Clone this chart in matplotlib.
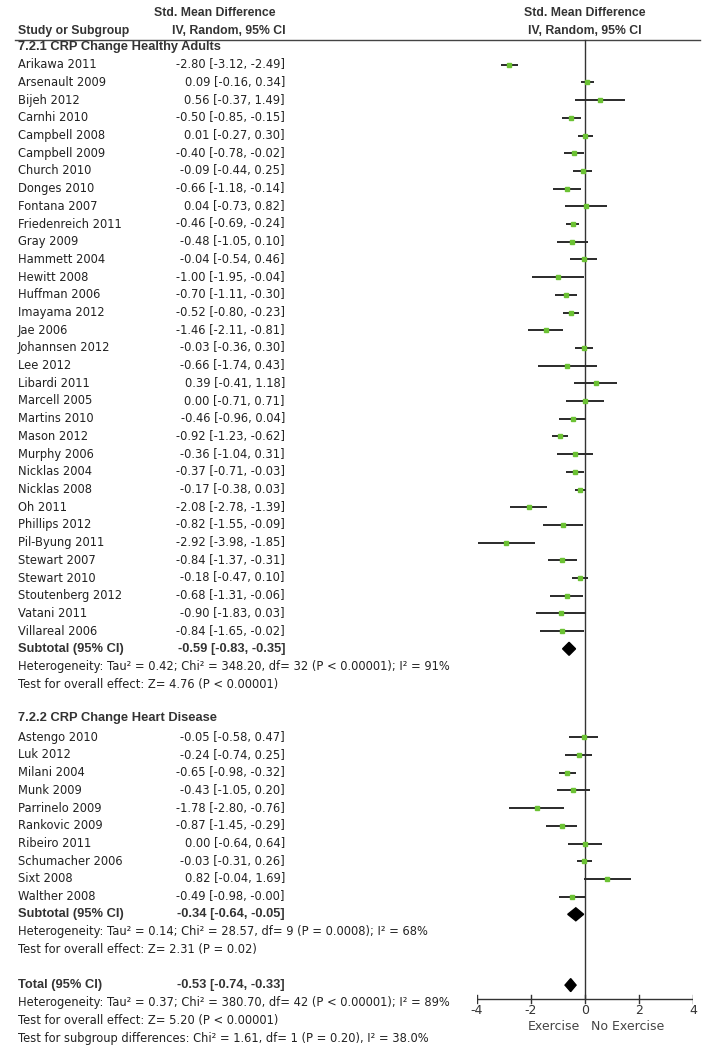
import numpy as np
import matplotlib
matplotlib.use("Agg")
import matplotlib.pyplot as plt

# ---- data ----
g1_names = ["Arikawa 2011", "Arsenault 2009", "Bijeh 2012", "Carnhi 2010", "Campbell 2008",
            "Campbell 2009", "Church 2010", "Donges 2010", "Fontana 2007", "Friedenreich 2011",
            "Gray 2009", "Hammett 2004", "Hewitt 2008", "Huffman 2006", "Imayama 2012",
            "Jae 2006", "Johannsen 2012", "Lee 2012", "Libardi 2011", "Marcell 2005",
            "Martins 2010", "Mason 2012", "Murphy 2006", "Nicklas 2004", "Nicklas 2008",
            "Oh 2011", "Phillips 2012", "Pil-Byung 2011", "Stewart 2007", "Stewart 2010",
            "Stoutenberg 2012", "Vatani 2011", "Villareal 2006"]
g1_est = [-2.80, 0.09, 0.56, -0.50, 0.01, -0.40, -0.09, -0.66, 0.04, -0.46,
          -0.48, -0.04, -1.00, -0.70, -0.52, -1.46, -0.03, -0.66, 0.39, 0.00,
          -0.46, -0.92, -0.36, -0.37, -0.17, -2.08, -0.82, -2.92, -0.84, -0.18,
          -0.68, -0.90, -0.84]
g1_lo = [-3.12, -0.16, -0.37, -0.85, -0.27, -0.78, -0.44, -1.18, -0.73, -0.69,
         -1.05, -0.54, -1.95, -1.11, -0.80, -2.11, -0.36, -1.74, -0.41, -0.71,
         -0.96, -1.23, -1.04, -0.71, -0.38, -2.78, -1.55, -3.98, -1.37, -0.47,
         -1.31, -1.83, -1.65]
g1_hi = [-2.49, 0.34, 1.49, -0.15, 0.30, -0.02, 0.25, -0.14, 0.82, -0.24,
         0.10, 0.46, -0.04, -0.30, -0.23, -0.81, 0.30, 0.43, 1.18, 0.71,
         0.04, -0.62, 0.31, -0.03, 0.03, -1.39, -0.09, -1.85, -0.31, 0.10,
         -0.06, 0.03, -0.02]
g1_sub = (-0.59, -0.83, -0.35)

g2_names = ["Astengo 2010", "Luk 2012", "Milani 2004", "Munk 2009", "Parrinelo 2009",
            "Rankovic 2009", "Ribeiro 2011", "Schumacher 2006", "Sixt 2008", "Walther 2008"]
g2_est = [-0.05, -0.24, -0.65, -0.43, -1.78, -0.87, 0.00, -0.03, 0.82, -0.49]
g2_lo = [-0.58, -0.74, -0.98, -1.05, -2.80, -1.45, -0.64, -0.31, -0.04, -0.98]
g2_hi = [0.47, 0.25, -0.32, 0.20, -0.76, -0.29, 0.64, 0.26, 1.69, -0.00]
g2_sub = (-0.34, -0.64, -0.05)

total = (-0.53, -0.74, -0.33)

g1_title = "7.2.1 CRP Change Healthy Adults"
g2_title = "7.2.2 CRP Change Heart Disease"
g1_het = "Heterogeneity: Tau\u00b2 = 0.42; Chi\u00b2 = 348.20, df= 32 (P < 0.00001); I\u00b2 = 91%"
g1_test = "Test for overall effect: Z= 4.76 (P < 0.00001)"
g2_het = "Heterogeneity: Tau\u00b2 = 0.14; Chi\u00b2 = 28.57, df= 9 (P = 0.0008); I\u00b2 = 68%"
g2_test = "Test for overall effect: Z= 2.31 (P = 0.02)"
tot_het = "Heterogeneity: Tau\u00b2 = 0.37; Chi\u00b2 = 380.70, df= 42 (P < 0.00001); I\u00b2 = 89%"
tot_test = "Test for overall effect: Z= 5.20 (P < 0.00001)"
tot_sub = "Test for subgroup differences: Chi\u00b2 = 1.61, df= 1 (P = 0.20), I\u00b2 = 38.0%"

xticks = [-4, -2, 0, 2, 4]

# ---- layout (pixel units) ----
W, H = 714, 1050
y0, step = 47, 17.7
def row(k):
    return y0 + step * k

fs = 8.3
tc = "#222222"
bfam = ["Liberation Sans", "DejaVu Sans"]

fig = plt.figure(figsize=(W / 100, H / 100), dpi=100)
ax = fig.add_axes([0, 0, 1, 1])
ax.set_xlim(0, W)
ax.set_ylim(H, 0)
ax.axis("off")

# forest axes: -4..4 maps onto pixel 477..693
fx0, fx1 = 477, 693
af = fig.add_axes([fx0 / W, 0, (fx1 - fx0) / W, 1])
af.set_xlim(-4, 4)
af.set_ylim(H, 0)
af.axis("off")

def fmt(e, l, h):
    return "%.2f [%.2f, %.2f]" % (e, l, h)

def btext(a, x, y, s, ha="left", size=8.8):
    a.text(x, y, s, ha=ha, va="center", fontsize=size, fontweight="bold",
           family=bfam, color="#333333")

# headers
btext(ax, 215, 13, "Std. Mean Difference", ha="center")
btext(ax, 18, 31, "Study or Subgroup")
btext(ax, 286, 31, "IV, Random, 95% CI", ha="right")
btext(af, 0.0, 13, "Std. Mean Difference", ha="center")
btext(af, 0.0, 31, "IV, Random, 95% CI", ha="center")
ax.plot([15, 700], [39.5, 39.5], color="#444444", lw=1)

def study_rows(names, est, lo, hi, k0):
    for i, n in enumerate(names):
        y = row(k0 + i)
        ax.text(18, y, n, ha="left", va="center", fontsize=fs, color=tc)
        ax.text(285, y, fmt(est[i], lo[i], hi[i]), ha="right", va="center", fontsize=fs, color=tc)
        af.plot([lo[i], hi[i]], [y, y], color="#2a2a2a", lw=1.4, solid_capstyle="butt", zorder=3)
        af.plot(est[i], y, marker="s", ms=2.3, color="#6cc234", mec="#6cc234", zorder=4)

def diamond(est, lo, hi, y, half=6.5):
    af.fill([lo, est, hi, est], [y, y - half, y, y + half], color="black", zorder=4)

def summary(label, vals, k):
    y = row(k)
    btext(ax, 18, y, label, size=9.3)
    btext(ax, 285, y, fmt(*vals), ha="right", size=9.3)
    diamond(vals[0], vals[1], vals[2], y)

# group 1
btext(ax, 18, row(0), g1_title, size=9.3)
study_rows(g1_names, g1_est, g1_lo, g1_hi, 1)
k = 1 + len(g1_names)
summary("Subtotal (95% CI)", g1_sub, k)
ax.text(18, row(k + 1), g1_het, ha="left", va="center", fontsize=fs, color=tc)
ax.text(18, row(k + 2), g1_test, ha="left", va="center", fontsize=fs, color=tc)

# group 2
k2 = k + 4
btext(ax, 18, row(k2) - 2, g2_title, size=9.3)
study_rows(g2_names, g2_est, g2_lo, g2_hi, k2 + 1)
k = k2 + 1 + len(g2_names)
summary("Subtotal (95% CI)", g2_sub, k)
ax.text(18, row(k + 1), g2_het, ha="left", va="center", fontsize=fs, color=tc)
ax.text(18, row(k + 2), g2_test, ha="left", va="center", fontsize=fs, color=tc)

# total
k = k + 4
summary("Total (95% CI)", total, k)
ax.text(18, row(k + 1), tot_het, ha="left", va="center", fontsize=fs, color=tc)
ax.text(18, row(k + 2), tot_test, ha="left", va="center", fontsize=fs, color=tc)
ax.text(18, row(k + 3), tot_sub, ha="left", va="center", fontsize=fs, color=tc)

# zero line and x axis
yax = 999
af.plot([0, 0], [39.5, yax], color="#333333", lw=1, zorder=2)
af.plot([xticks[0], xticks[-1]], [yax, yax], color="#333333", lw=1, zorder=2)
for t in xticks:
    af.plot([t, t], [yax - 4, yax + 4], color="#333333", lw=1)
    af.text(t, yax + 11, str(t), ha="center", va="center", fontsize=9, color="#333333")
af.text(-0.2, yax + 28, "Exercise", ha="right", va="center", fontsize=9, color="#444444")
af.text(0.22, yax + 28, "No Exercise", ha="left", va="center", fontsize=9, color="#444444")

fig.savefig("out.png", dpi=100)
